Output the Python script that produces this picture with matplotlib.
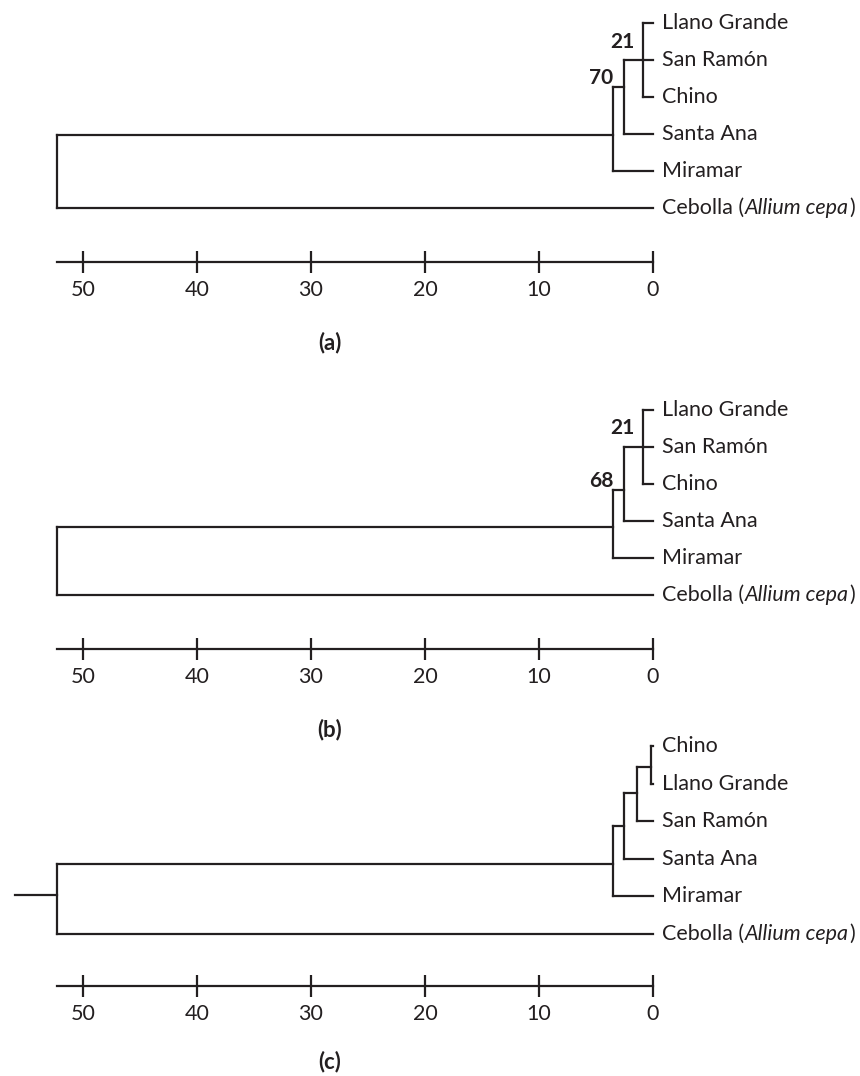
import matplotlib
matplotlib.use("Agg")
import matplotlib.pyplot as plt
from matplotlib.transforms import offset_copy

W, H, DPI = 860, 1076, 100
INK = "#231f20"
FONT = ["Lato", "DejaVu Sans"]
plt.rcParams["font.family"] = FONT

# ------------------------------------------------------------------ data
tips_a = ["Llano Grande", "San Ramón", "Chino", "Santa Ana", "Miramar", "Cebolla"]
tips_b = ["Llano Grande", "San Ramón", "Chino", "Santa Ana", "Miramar", "Cebolla"]
tips_c = ["Chino", "Llano Grande", "San Ramón", "Santa Ana", "Miramar", "Cebolla"]
outgroup_species = "Allium cepa"

# internal node heights (genetic distance, same scale as the axis)
heights_a = [0.9, 2.54, 3.48, 52.3]
heights_b = [0.9, 2.54, 3.48, 52.3]
heights_c = [0.2, 1.38, 2.54, 3.48, 52.3]

# children of each internal node: int = tip index, "nK" = internal node K
children_a = [[0, 1, 2], ["n0", 3], ["n1", 4], ["n2", 5]]
children_b = [[0, 1, 2], ["n0", 3], ["n1", 4], ["n2", 5]]
children_c = [[0, 1], ["n0", 2], ["n1", 3], ["n2", 4], ["n3", 5]]

# vertical position where each node's stem attaches (tip-row units)
attach_a = [1.0, 1.73, 3.03, None]
attach_b = [1.0, 2.16, 3.16, None]
attach_c = [0.56, 1.25, 2.13, 3.14, 3.96]
root_stub_c = 56.0

# bootstrap support values: (label, node index)
support_a = [("21", 0), ("70", 1)]
support_b = [("21", 0), ("68", 1)]
support_c = []

scale_ticks = [50, 40, 30, 20, 10, 0]
scale_max = 52.3
panel_labels = ["(a)", "(b)", "(c)"]

# ------------------------------------------------------------------ layout
PX_PER_UNIT = 11.4
ZERO_X = 653.0
layouts = [
    dict(base=23, step=37.0, axis_px=262, label_px=343),
    dict(base=410, step=37.0, axis_px=649, label_px=730),
    dict(base=746, step=37.6, axis_px=986, label_px=1062),
]
LABEL_X = 330

fig = plt.figure(figsize=(W / DPI, H / DPI), dpi=DPI)
fig.patch.set_facecolor("white")

LW = 1.6
TIP_FS = 15.5
x_left = ZERO_X / PX_PER_UNIT
x_right = -(W - ZERO_X) / PX_PER_UNIT


def draw_panel(lay, tips, heights, children, attach, support, stub=None):
    top_px = lay["base"] - 40
    bot_px = lay["axis_px"] + 45
    ax = fig.add_axes([0, 1 - bot_px / H, 1, (bot_px - top_px) / H])
    ax.set_xlim(x_left, x_right)
    ax.set_ylim((bot_px - lay["base"]) / lay["step"], (top_px - lay["base"]) / lay["step"])
    ax.patch.set_alpha(0)

    def pos(c):
        if isinstance(c, str):
            k = int(c[1:])
            return heights[k], attach[k]
        return 0.0, float(c)

    for k, (h, ch) in enumerate(zip(heights, children)):
        ys = [pos(c)[1] for c in ch]
        ax.plot([h, h], [min(ys), max(ys)], color=INK, lw=LW, solid_capstyle="projecting")
        for c in ch:
            ch_h, ch_y = pos(c)
            ax.plot([h, ch_h], [ch_y, ch_y], color=INK, lw=LW, solid_capstyle="projecting")
    if stub is not None:
        ax.plot([stub, heights[-1]], [attach[-1], attach[-1]], color=INK, lw=LW)

    # tip labels
    fig.canvas.draw()
    r = fig.canvas.get_renderer()
    last = len(tips) - 1
    for i, name in enumerate(tips):
        t = ax.text(-0.8, i, name + (" (" if i == last else ""),
                    ha="left", va="center", fontsize=TIP_FS, color=INK)
        if i == last:
            bb = t.get_window_extent(r)
            w_pt = bb.width * 72 / DPI
            t2 = ax.text(-0.8, i, outgroup_species, ha="left", va="center", fontsize=TIP_FS,
                         style="italic", color=INK,
                         transform=offset_copy(ax.transData, fig, x=w_pt, y=0, units="points"))
            bb2 = t2.get_window_extent(r)
            w2 = bb2.width * 72 / DPI
            ax.text(-0.8, i, ")", ha="left", va="center", fontsize=TIP_FS, color=INK,
                    transform=offset_copy(ax.transData, fig, x=w_pt + w2 + 1, y=0, units="points"))

    # support values
    for lab, k in support:
        y = attach[k] - 0.5 if k == 0 else attach[k] - 0.25
        ax.text(heights[k + 1] - 0.95 if k == 0 else heights[k + 1], y, lab,
                ha="right", va="center", fontsize=15, fontweight="bold", color=INK)

    # scale axis
    for s in ["top", "left", "right"]:
        ax.spines[s].set_visible(False)
    sp = ax.spines["bottom"]
    sp.set_position(("data", (lay["axis_px"] - lay["base"]) / lay["step"]))
    sp.set_bounds(0, scale_max)
    sp.set_linewidth(LW)
    sp.set_color(INK)
    ax.set_yticks([])
    ax.set_xticks(scale_ticks)
    ax.set_xticklabels([str(t) for t in scale_ticks])
    ax.tick_params(axis="x", direction="inout", length=16, width=LW, color=INK,
                   labelsize=15.5, labelcolor=INK, pad=5)
    return ax


draw_panel(layouts[0], tips_a, heights_a, children_a, attach_a, support_a)
draw_panel(layouts[1], tips_b, heights_b, children_b, attach_b, support_b)
draw_panel(layouts[2], tips_c, heights_c, children_c, attach_c, support_c, stub=root_stub_c)

for lab, lay in zip(panel_labels, layouts):
    fig.text(LABEL_X / W, 1 - lay["label_px"] / H, lab, ha="center", va="center",
             fontsize=16, fontweight="bold", color=INK)

fig.savefig("out.png", dpi=DPI, facecolor="white")
